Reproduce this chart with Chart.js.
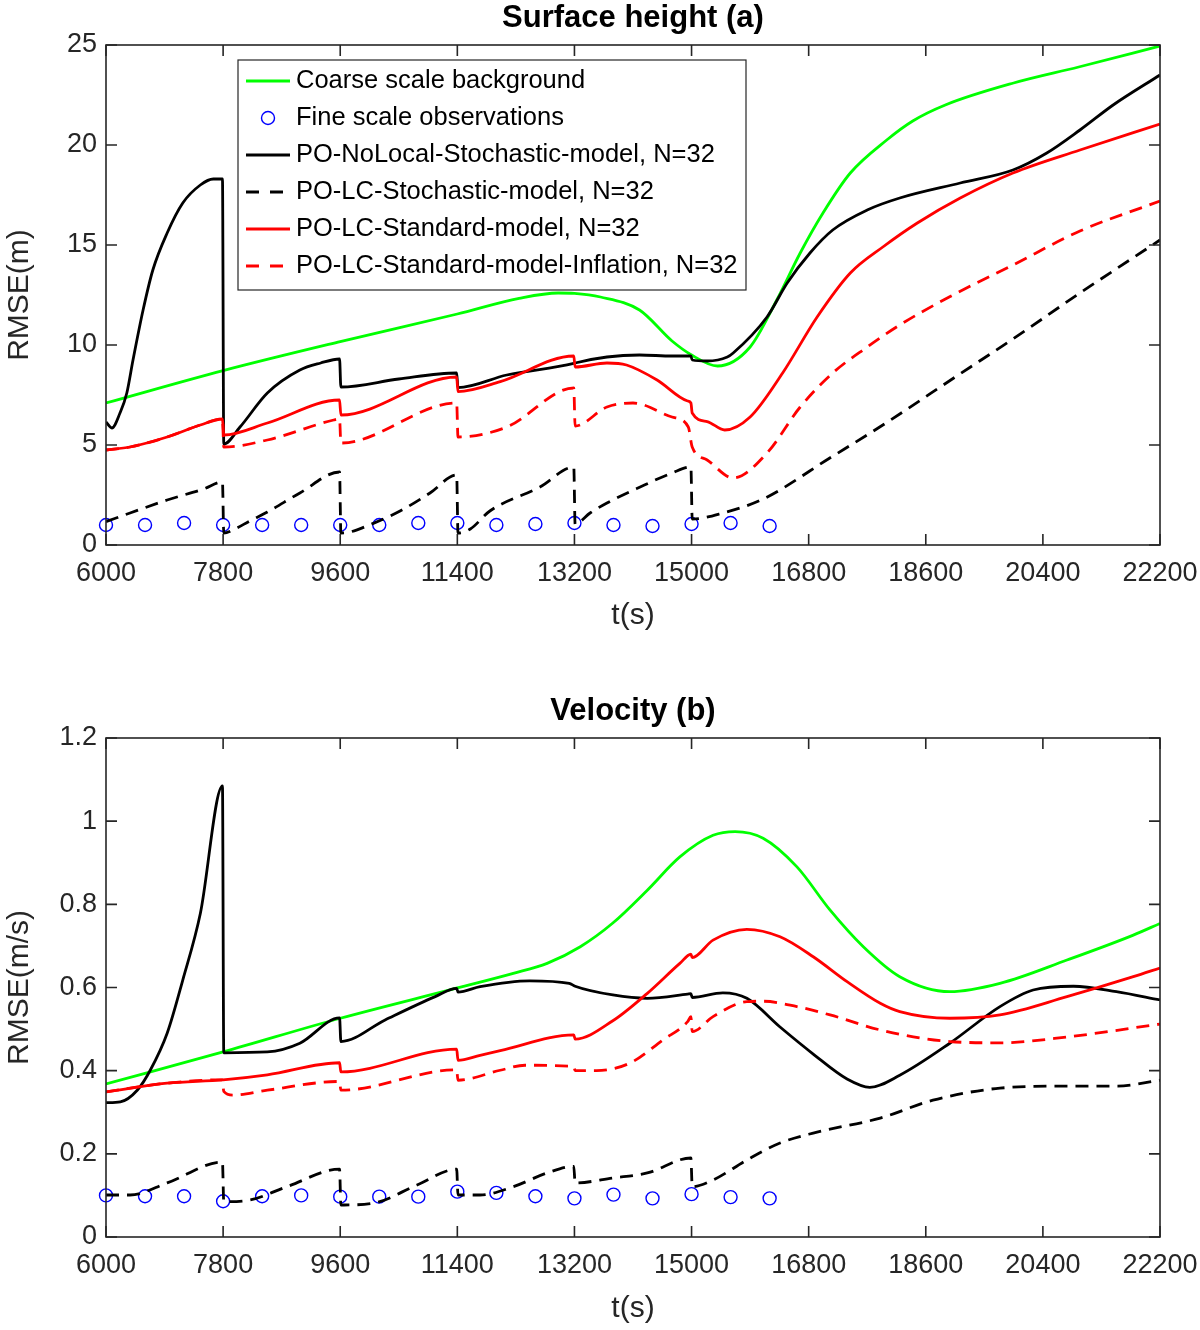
<!DOCTYPE html>
<html>
<head>
<meta charset="utf-8">
<script src="https://cdn.jsdelivr.net/npm/chart.js@4.4.1/dist/chart.umd.min.js"></script>
<style>
  body { margin: 0; background: #fff; }
  .panel { position: absolute; left: 0; width: 1200px; height: 665px; }
  #pa { top: 0; }
  #pb { top: 665px; }
</style>
</head>
<body>
<div class="panel" id="pa"><canvas id="chartA"></canvas></div>
<div class="panel" id="pb"><canvas id="chartB"></canvas></div>
<script>
// tick labels
const tTicks = [6000, 7800, 9600, 11400, 13200, 15000, 16800, 18600, 20400, 22200];
const hTicks = [0, 5, 10, 15, 20, 25];
const vTicks = [0, 0.2, 0.4, 0.6, 0.8, 1, 1.2];

const names = [
  'Coarse scale background',
  'Fine scale observations',
  'PO-NoLocal-Stochastic-model, N=32',
  'PO-LC-Stochastic-model, N=32',
  'PO-LC-Standard-model, N=32',
  'PO-LC-Standard-model-Inflation, N=32'
];

// observations (both panels)
const tObs = [6000, 6600, 7200, 7800, 8400, 9000, 9600, 10200, 10800, 11400, 12000, 12600, 13200, 13800, 14400, 15000, 15600, 16200];
const hObs = [1.0, 1.0, 1.1, 1.0, 1.0, 1.0, 1.0, 1.0, 1.1, 1.1, 1.0, 1.05, 1.1, 1.0, 0.95, 1.05, 1.1, 0.95];
const vObs = [0.1, 0.098, 0.098, 0.086, 0.098, 0.1, 0.097, 0.097, 0.097, 0.109, 0.106, 0.098, 0.093, 0.102, 0.093, 0.103, 0.096, 0.093];

// panel (a) surface height
const tCoarseH = [6000, 7800, 9600, 11400, 12350, 12950, 13200, 13600, 14200, 14700, 15000, 15400, 15900, 16310, 16670, 17020, 17440, 18000, 18400, 18900, 19950, 20950, 22200];
const hCoarse = [7.1, 8.72, 10.17, 11.55, 12.33, 12.6, 12.58, 12.4, 11.75, 10.2, 9.5, 8.95, 9.9, 12.25, 14.6, 16.6, 18.6, 20.25, 21.2, 22.0, 23.1, 23.9, 24.95];

const tNoLocH = [6000, 6090, 6215, 6320, 6415, 6570, 6720, 6940, 7180, 7450, 7650, 7790, 7810, 8060, 8480, 8980, 9300, 9590, 9610, 10500, 11390, 11410, 12160, 13190, 13210, 13700, 14200, 14700, 14990, 15010, 15240, 15550, 15640, 16160, 16470, 16820, 17170, 17700, 18200, 19130, 19940, 20460, 20970, 21480, 22200];
const hNoLoc = [6.15, 5.85, 6.6, 7.6, 9.25, 11.75, 13.75, 15.6, 17.1, 18.0, 18.3, 18.3, 5.05, 5.9, 7.6, 8.75, 9.1, 9.3, 7.9, 8.3, 8.6, 7.87, 8.5, 9.08, 9.1, 9.4, 9.5, 9.45, 9.45, 9.25, 9.2, 9.4, 9.6, 11.4, 13.1, 14.6, 15.75, 16.75, 17.35, 18.1, 18.75, 19.6, 20.75, 22.0, 23.5];

const tLcStochH = [6000, 6370, 6940, 7500, 7790, 7810, 7950, 8210, 8480, 8980, 9590, 9610, 9750, 10010, 10520, 10980, 11390, 11410, 11600, 11900, 12670, 13190, 13210, 13440, 13700, 14210, 14700, 14990, 15010, 15480, 16100, 17150, 17940, 19100, 19940, 20970, 22200];
const hLcStoch = [1.17, 1.6, 2.25, 2.8, 3.15, 0.6, 0.75, 1.2, 1.65, 2.6, 3.65, 0.6, 0.65, 0.95, 1.7, 2.6, 3.5, 0.6, 0.8, 1.7, 2.9, 3.9, 1.05, 1.6, 2.1, 2.9, 3.6, 3.9, 1.3, 1.6, 2.3, 4.4, 6.0, 8.5, 10.3, 12.6, 15.25];

const tStdH = [6000, 6370, 6940, 7450, 7790, 7810, 8480, 9590, 9610, 11390, 11410, 12060, 13190, 13210, 13700, 14000, 14470, 14940, 14990, 15010, 15240, 15510, 15900, 16400, 16930, 17440, 17940, 18470, 19130, 19940, 20970, 22200];
const hStd = [4.75, 4.9, 5.4, 6.0, 6.3, 5.5, 6.1, 7.25, 6.5, 8.4, 7.67, 8.17, 9.45, 8.9, 9.1, 9.0, 8.25, 7.2, 7.1, 6.6, 6.17, 5.75, 6.4, 8.6, 11.4, 13.6, 14.9, 16.1, 17.35, 18.6, 19.75, 21.05];

const tInflH = [6000, 6370, 6940, 7450, 7790, 7810, 8480, 9500, 9590, 9610, 11390, 11410, 12160, 13190, 13210, 13700, 14100, 14700, 14950, 15010, 15240, 15640, 16160, 16670, 17170, 17700, 18200, 18960, 19940, 20970, 22200];
const hInfl = [4.75, 4.9, 5.4, 6.0, 6.3, 4.9, 5.25, 6.25, 6.3, 5.1, 7.1, 5.4, 5.9, 7.85, 5.95, 6.9, 7.1, 6.4, 5.9, 4.9, 4.25, 3.35, 4.6, 6.9, 8.6, 9.9, 11.0, 12.4, 14.0, 15.7, 17.2];

// panel (b) velocity
const tCoarseV = [6000, 7800, 9600, 11330, 12260, 12780, 13290, 13790, 14320, 14820, 15330, 15670, 16100, 16620, 17130, 17640, 18200, 18970, 19740, 20770, 21790, 22200];
const vCoarse = [0.368, 0.445, 0.526, 0.596, 0.634, 0.658, 0.698, 0.755, 0.834, 0.914, 0.966, 0.975, 0.959, 0.89, 0.786, 0.698, 0.626, 0.59, 0.61, 0.666, 0.726, 0.754];

const tNoLocV = [6000, 6220, 6480, 6680, 6940, 7180, 7450, 7790, 7810, 8480, 8980, 9590, 9610, 10290, 11060, 11390, 11410, 11750, 12510, 13120, 13210, 13790, 14320, 14940, 14990, 15010, 15480, 15850, 16360, 16870, 17390, 17740, 18200, 18970, 19740, 20250, 20870, 21530, 22200];
const vNoLoc = [0.323, 0.325, 0.353, 0.401, 0.49, 0.618, 0.778, 1.085, 0.443, 0.445, 0.466, 0.527, 0.47, 0.522, 0.578, 0.598, 0.589, 0.602, 0.616, 0.61, 0.603, 0.582, 0.574, 0.584, 0.585, 0.576, 0.587, 0.574, 0.505, 0.44, 0.38, 0.36, 0.389, 0.466, 0.554, 0.594, 0.603, 0.59, 0.57];

const tLcStochV = [6000, 6370, 6940, 7790, 7810, 8210, 8780, 9590, 9610, 10100, 10780, 11390, 11410, 11750, 12260, 12780, 13190, 13210, 13790, 14320, 14990, 15010, 15330, 15850, 16360, 16870, 17900, 18710, 19740, 20770, 21530, 22200];
const vLcStoch = [0.101, 0.101, 0.13, 0.18, 0.085, 0.089, 0.121, 0.163, 0.077, 0.081, 0.125, 0.163, 0.101, 0.101, 0.121, 0.154, 0.17, 0.13, 0.142, 0.154, 0.19, 0.121, 0.137, 0.185, 0.226, 0.25, 0.286, 0.329, 0.358, 0.363, 0.363, 0.377];

const tStdV = [6000, 6940, 7800, 8480, 9590, 9610, 11390, 11410, 11750, 12060, 13190, 13210, 13790, 14320, 14820, 14990, 15010, 15330, 15850, 16360, 16870, 17390, 17900, 18200, 18970, 19740, 20770, 21790, 22200];
const vStd = [0.349, 0.37, 0.378, 0.39, 0.419, 0.397, 0.452, 0.425, 0.437, 0.448, 0.486, 0.476, 0.52, 0.586, 0.658, 0.68, 0.672, 0.714, 0.74, 0.722, 0.674, 0.614, 0.562, 0.542, 0.526, 0.534, 0.578, 0.626, 0.647];

const tInflV = [6000, 6940, 7790, 7810, 7950, 8480, 9590, 9610, 11390, 11410, 12060, 12440, 13190, 13210, 13540, 14050, 14560, 14940, 14990, 15010, 15330, 15850, 16100, 16620, 17130, 17900, 18970, 19740, 20770, 22200];
const vInfl = [0.349, 0.37, 0.378, 0.35, 0.341, 0.353, 0.374, 0.353, 0.402, 0.377, 0.401, 0.413, 0.41, 0.40, 0.40, 0.418, 0.474, 0.518, 0.53, 0.494, 0.53, 0.566, 0.567, 0.554, 0.534, 0.498, 0.47, 0.467, 0.481, 0.512];

const FONT = '"Liberation Sans", Arial, Helvetica, sans-serif';
const AX = '#262626';
Chart.defaults.font.family = FONT;

const pts = (t, v) => t.map((x, i) => ({x: x, y: v[i]}));

function curve(label, t, v, color, dashed, order) {
    return {
        label: label,
        data: pts(t, v),
        borderColor: color,
        backgroundColor: color,
        borderWidth: 2.8,
        borderDash: dashed ? [13, 8] : [],
        pointRadius: 0,
        cubicInterpolationMode: 'monotone',
        fill: false,
        order: order
    };
}

function obs(t, v) {
    return {
        label: names[1],
        data: pts(t, v),
        showLine: false,
        pointRadius: 6.5,
        pointBorderWidth: 1.4,
        pointBorderColor: '#0000ff',
        pointBackgroundColor: 'rgba(0,0,0,0)',
        borderColor: '#0000ff',
        clip: false,
        order: 5
    };
}

function drawLegend(chart) {
    const {ctx, chartArea: a} = chart;
    const bx = a.left + 132, by = a.top + 15, bw = 508, bh = 230;
    ctx.fillStyle = '#fff';
    ctx.fillRect(bx, by, bw, bh);
    ctx.strokeStyle = AX;
    ctx.lineWidth = 1.2;
    ctx.strokeRect(bx, by, bw, bh);
    ctx.font = '25.5px ' + FONT;
    ctx.textBaseline = 'middle';
    ctx.textAlign = 'left';
    chart.data.datasets.forEach((ds, i) => {
        const ry = by + 21 + i * 37;
        ctx.save();
        if (ds.showLine === false) {
            ctx.strokeStyle = ds.pointBorderColor;
            ctx.lineWidth = ds.pointBorderWidth;
            ctx.beginPath();
            ctx.arc(bx + 30, ry, ds.pointRadius, 0, Math.PI * 2);
            ctx.stroke();
        } else {
            const dashed = ds.borderDash.length > 0;
            ctx.strokeStyle = ds.borderColor;
            ctx.lineWidth = ds.borderWidth;
            ctx.setLineDash(dashed ? [13, 11] : []);
            ctx.beginPath();
            ctx.moveTo(bx + 8, ry);
            ctx.lineTo(bx + (dashed ? 45 : 52), ry);
            ctx.stroke();
        }
        ctx.restore();
        ctx.fillStyle = '#000';
        ctx.fillText(ds.label, bx + 58, ry);
    });
}

// box round the axes with inward ticks, like the original
const frame = {
    id: 'frame',
    afterDraw(chart, args, opts) {
        const {ctx, chartArea: a, scales: {x, y}} = chart;
        ctx.save();
        ctx.strokeStyle = AX;
        ctx.lineWidth = 1.6;
        ctx.strokeRect(a.left, a.top, a.right - a.left, a.bottom - a.top);
        ctx.beginPath();
        x.ticks.forEach(t => {
            const px = x.getPixelForValue(t.value);
            ctx.moveTo(px, a.bottom); ctx.lineTo(px, a.bottom - 11);
            ctx.moveTo(px, a.top); ctx.lineTo(px, a.top + 11);
        });
        y.ticks.forEach(t => {
            const py = y.getPixelForValue(t.value);
            ctx.moveTo(a.left, py); ctx.lineTo(a.left + 11, py);
            ctx.moveTo(a.right, py); ctx.lineTo(a.right - 11, py);
        });
        ctx.stroke();
        if (opts.legend) drawLegend(chart);
        ctx.restore();
    }
};

function makeOptions(o) {
    return {
        responsive: true,
        maintainAspectRatio: false,
        animation: false,
        layout: {padding: {left: 0, right: 40, top: 0, bottom: 0}},
        plugins: {
            legend: {display: false},
            tooltip: {enabled: false},
            frame: {legend: o.legend},
            title: {
                display: true,
                text: o.title,
                fullSize: false,
                color: '#000',
                font: {size: 31, weight: 'bold', lineHeight: 1},
                padding: {top: o.titleTop, bottom: o.titleBottom}
            }
        },
        scales: {
            x: {
                type: 'linear',
                min: 6000,
                max: 22200,
                afterBuildTicks: s => { s.ticks = tTicks.map(v => ({value: v})); },
                afterFit: s => { s.height = o.xHeight; s.paddingLeft = 0; s.paddingRight = 0; },
                grid: {display: false, drawTicks: false, tickLength: 0},
                border: {display: false},
                ticks: {
                    autoSkip: false, maxRotation: 0, padding: 12,
                    color: AX, font: {size: 27},
                    callback: v => String(v)
                },
                title: {
                    display: true, text: 't(s)', color: AX,
                    font: {size: 30, lineHeight: 1.2},
                    padding: {top: 0, bottom: o.xTitlePad}
                }
            },
            y: {
                type: 'linear',
                min: 0,
                max: o.ymax,
                afterBuildTicks: s => { s.ticks = o.yTicks.map(v => ({value: v})); },
                afterFit: s => { s.width = 106; },
                grid: {display: false, drawTicks: false, tickLength: 0},
                border: {display: false},
                ticks: {
                    padding: 9, color: AX, font: {size: 27},
                    callback: v => String(Math.round(v * 10) / 10)
                },
                title: {
                    display: true, text: o.ylabel, color: AX,
                    font: {size: 30, lineHeight: 1.2},
                    padding: {top: 2, bottom: 0}
                }
            }
        }
    };
}

new Chart(document.getElementById('chartA'), {
    type: 'line',
    data: {
        datasets: [
            curve(names[0], tCoarseH, hCoarse, '#00ff00', false, 6),
            obs(tObs, hObs),
            curve(names[2], tNoLocH, hNoLoc, '#000000', false, 4),
            curve(names[3], tLcStochH, hLcStoch, '#000000', true, 3),
            curve(names[4], tStdH, hStd, '#ff0000', false, 2),
            curve(names[5], tInflH, hInfl, '#ff0000', true, 1)
        ]
    },
    options: makeOptions({
        title: 'Surface height (a)', titleTop: 2.5, titleBottom: 11.5,
        xHeight: 120, xTitlePad: 31, ymax: 25, yTicks: hTicks,
        ylabel: 'RMSE(m)', legend: true
    }),
    plugins: [frame]
});

new Chart(document.getElementById('chartB'), {
    type: 'line',
    data: {
        datasets: [
            curve(names[0], tCoarseV, vCoarse, '#00ff00', false, 6),
            obs(tObs, vObs),
            curve(names[2], tNoLocV, vNoLoc, '#000000', false, 4),
            curve(names[3], tLcStochV, vLcStoch, '#000000', true, 3),
            curve(names[4], tStdV, vStd, '#ff0000', false, 2),
            curve(names[5], tInflV, vInfl, '#ff0000', true, 1)
        ]
    },
    options: makeOptions({
        title: 'Velocity (b)', titleTop: 30.5, titleBottom: 11.5,
        xHeight: 93, xTitlePad: 3, ymax: 1.2, yTicks: vTicks,
        ylabel: 'RMSE(m/s)', legend: false
    }),
    plugins: [frame]
});
</script>
</body>
</html>
